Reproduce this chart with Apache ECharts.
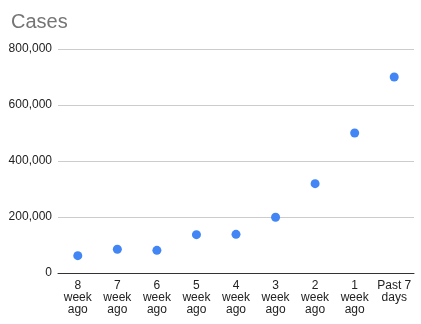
<!DOCTYPE html>
<html>
<head>
<meta charset="utf-8">
<style>
  html, body { margin: 0; padding: 0; background: #fff; }
  #chart { width: 421px; height: 324px; }
</style>
<script src="https://cdn.jsdelivr.net/npm/echarts@6/dist/echarts.min.js"></script>
</head>
<body>
<div id="chart"></div>
<script>
// Weekly case counts, oldest first
const categories = ['8\nweek\nago', '7\nweek\nago', '6\nweek\nago', '5\nweek\nago', '4\nweek\nago',
                    '3\nweek\nago', '2\nweek\nago', '1\nweek\nago', 'Past 7\ndays'];
const cases = [62000, 85000, 81000, 137000, 138000, 199000, 319000, 500000, 700000];
const yTicks = [0, 200000, 400000, 600000, 800000];

const FONT = 'Liberation Sans, Arial, sans-serif';

const chart = echarts.init(document.getElementById('chart'), null, { renderer: 'canvas' });
chart.setOption({
  animation: false,
  textStyle: { fontFamily: FONT },
  title: {
    text: 'Cases',
    left: 6,
    top: 7,
    textStyle: { color: '#757575', fontSize: 20, fontWeight: 'normal', fontFamily: FONT }
  },
  grid: { left: 58, right: 7, top: 49, bottom: 51, containLabel: false },
  xAxis: {
    type: 'category',
    data: categories,
    boundaryGap: true,
    axisLine: { lineStyle: { color: '#333', width: 1 } },
    axisTick: { show: false },
    axisLabel: { color: '#222', fontSize: 12, lineHeight: 12, margin: 7, interval: 0, fontFamily: FONT }
  },
  yAxis: {
    type: 'value',
    min: yTicks[0],
    max: yTicks[yTicks.length - 1],
    interval: yTicks[1] - yTicks[0],
    axisLine: { show: false },
    axisTick: { show: false },
    splitLine: { lineStyle: { color: '#cccccc', width: 1 } },
    axisLabel: {
      color: '#222', fontSize: 12, margin: 6, fontFamily: FONT,
      formatter: v => v.toLocaleString('en-US')
    }
  },
  series: [{
    type: 'scatter',
    data: cases,
    symbol: 'circle',
    symbolSize: 9,
    itemStyle: { color: '#4285F4', opacity: 1 }
  }]
});
</script>
</body>
</html>
